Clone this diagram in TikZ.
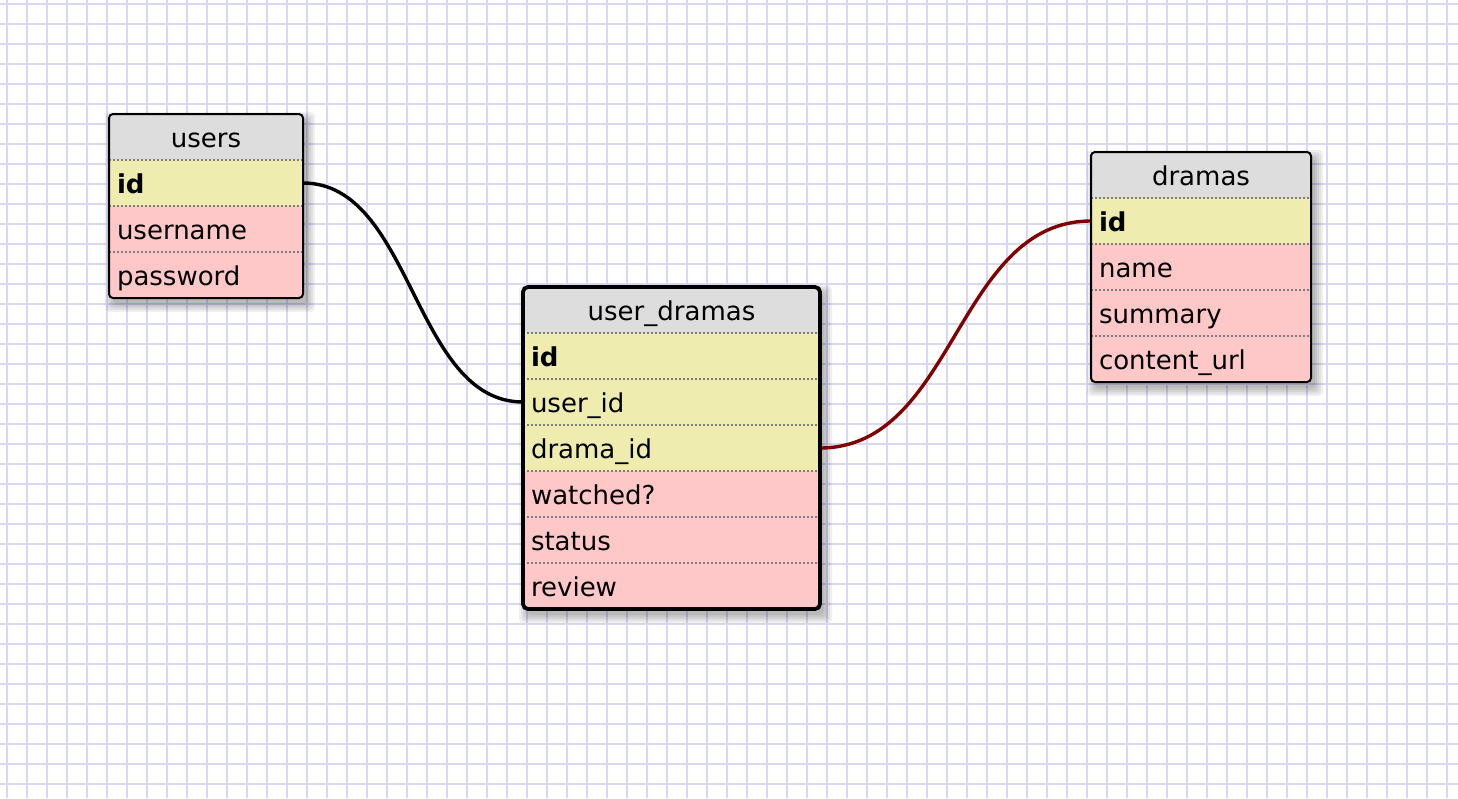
\documentclass[tikz,border=0pt]{standalone}
\usepackage{fontspec}
\setmainfont{DejaVu Sans}
\usetikzlibrary{backgrounds}
\definecolor{gridc}{RGB}{216,216,244}
\definecolor{hdr}{RGB}{221,221,221}
\definecolor{keyc}{RGB}{238,236,174}
\definecolor{rowc}{RGB}{255,200,200}
\definecolor{sepc}{RGB}{125,125,125}
\definecolor{relred}{RGB}{128,0,0}
\pgfdeclarelayer{gridlayer}
\pgfdeclarelayer{foreground}
\pgfsetlayers{gridlayer,background,main,foreground}
\newcommand{\tblshadow}[2]{%
  \foreach \s in {8,6,4,2,0}{%
    \fill[black,opacity=0.06,rounded corners=4pt]
      ([shift={(4-\s,6-\s)}]#1.north west) rectangle ([shift={(4+\s,6+\s)}]#2.south east);
  }%
}
\begin{document}
\begin{tikzpicture}[x=1pt,y=-1pt,
  cell/.style={anchor=north west, minimum height=46pt, inner xsep=8pt, inner ysep=0pt,
    text height=21pt, text depth=0pt, align=left, font=\fontsize{26}{30}\selectfont, outer sep=0pt},
  title/.style={cell, fill=hdr, align=center},
  keyrow/.style={cell, fill=keyc, font=\fontsize{26}{30}\selectfont\bfseries},
  fkrow/.style={cell, fill=keyc},
  plainrow/.style={cell, fill=rowc},
  sep/.style={draw=sepc, line width=2pt, dash pattern=on 2pt off 2pt},
  frame/.style={draw=black, line width=2pt, rounded corners=4pt},
  selframe/.style={draw=black, line width=3.8pt, rounded corners=5pt},
  rel/.style={line width=3.4pt},
]
\useasboundingbox (0,0) rectangle (1458,798);
\begin{pgfonlayer}{gridlayer}
  \fill[white] (0,0) rectangle (1458,798);
  \foreach \x in {7,27,...,1447} \draw[gridc, line width=1.8pt] (\x,0) -- (\x,798);
  \foreach \y in {4,24,...,784} \draw[gridc, line width=1.8pt] (0,\y) -- (1458,\y);
\end{pgfonlayer}

% users
\node[title, text width=178pt] (users) at (109,114) {users};
\node[keyrow, text width=178pt] (users-id) at (users.south west) {id};
\node[plainrow, text width=178pt] (users-un) at (users-id.south west) {username};
\node[plainrow, text width=178pt] (users-pw) at (users-un.south west) {password};

% user_dramas
\node[title, text width=281pt] (ud) at (523,287) {user\_dramas};
\node[keyrow, text width=281pt] (ud-id) at (ud.south west) {id};
\node[fkrow, text width=281pt] (ud-uid) at (ud-id.south west) {user\_id};
\node[fkrow, text width=281pt] (ud-did) at (ud-uid.south west) {drama\_id};
\node[plainrow, text width=281pt] (ud-w) at (ud-did.south west) {watched?};
\node[plainrow, text width=281pt] (ud-st) at (ud-w.south west) {status};
\node[plainrow, text width=281pt] (ud-rv) at (ud-st.south west) {review};

% dramas
\node[title, text width=204pt] (dr) at (1091,152) {dramas};
\node[keyrow, text width=204pt] (dr-id) at (dr.south west) {id};
\node[plainrow, text width=204pt] (dr-nm) at (dr-id.south west) {name};
\node[plainrow, text width=204pt] (dr-sm) at (dr-nm.south west) {summary};
\node[plainrow, text width=204pt] (dr-cu) at (dr-sm.south west) {content\_url};

\begin{pgfonlayer}{background}
  \tblshadow{users}{users-pw}
  \tblshadow{ud}{ud-rv}
  \tblshadow{dr}{dr-cu}
  \draw[rel, black] (users-id.east) .. controls +(110,0) and +(-110,0) .. (ud-uid.west);
  \draw[rel, relred] (ud-did.east) .. controls +(135,0) and +(-135,0) .. (dr-id.west);
\end{pgfonlayer}

\begin{pgfonlayer}{foreground}
  \foreach \r in {users-id,users-un,users-pw,ud-id,ud-uid,ud-did,ud-w,ud-st,ud-rv,dr-id,dr-nm,dr-sm,dr-cu}
    \draw[sep] (\r.north west) -- (\r.north east);
  \draw[frame] (users.north west) rectangle (users-pw.south east);
  \draw[selframe] (ud.north west) rectangle (ud-rv.south east);
  \draw[frame] (dr.north west) rectangle (dr-cu.south east);
\end{pgfonlayer}
\end{tikzpicture}
\end{document}
